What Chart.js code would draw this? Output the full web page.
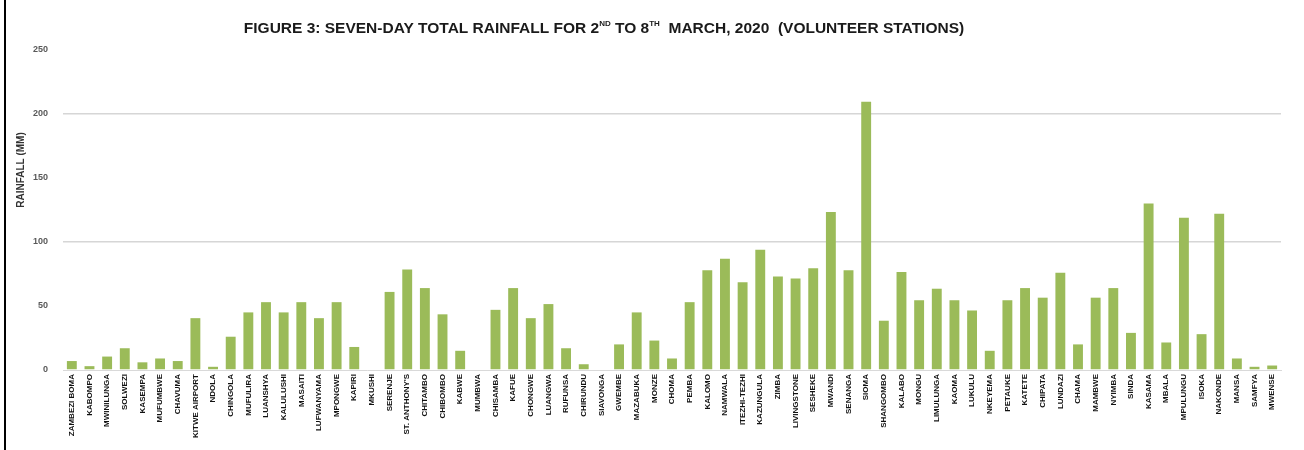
<!DOCTYPE html>
<html lang="en">
<head>
    <meta charset="UTF-8">
    <title>Seven-day total rainfall</title>
    <script src="https://cdn.jsdelivr.net/npm/chart.js"></script>
    <style>
        body {
            margin: 0;
            background: #ffffff;
        }
        .chart-box {
            position: relative;
            width: 1304px;
            height: 450px;
        }
    </style>
</head>
<body>
    <div class="chart-box">
        <canvas id="rainChart"></canvas>
    </div>

    <script>
        // station names (illegible in the source, approximated)
        const stations = [
            'ZAMBEZI BOMA', 'KABOMPO', 'MWINILUNGA', 'SOLWEZI', 'KASEMPA', 'MUFUMBWE', 'CHAVUMA',
            'KITWE AIRPORT', 'NDOLA', 'CHINGOLA', 'MUFULIRA', 'LUANSHYA', 'KALULUSHI', 'MASAITI',
            'LUFWANYAMA', 'MPONGWE', 'KAPIRI', 'MKUSHI', 'SERENJE', "ST. ANTHONY'S", 'CHITAMBO',
            'CHIBOMBO', 'KABWE', 'MUMBWA', 'CHISAMBA', 'KAFUE', 'CHONGWE', 'LUANGWA', 'RUFUNSA',
            'CHIRUNDU', 'SIAVONGA', 'GWEMBE', 'MAZABUKA', 'MONZE', 'CHOMA', 'PEMBA', 'KALOMO',
            'NAMWALA', 'ITEZHI-TEZHI', 'KAZUNGULA', 'ZIMBA', 'LIVINGSTONE', 'SESHEKE', 'MWANDI',
            'SENANGA', 'SIOMA', 'SHANGOMBO', 'KALABO', 'MONGU', 'LIMULUNGA', 'KAOMA', 'LUKULU',
            'NKEYEMA', 'PETAUKE', 'KATETE', 'CHIPATA', 'LUNDAZI', 'CHAMA', 'MAMBWE', 'NYIMBA',
            'SINDA', 'KASAMA', 'MBALA', 'MPULUNGU', 'ISOKA', 'NAKONDE', 'MANSA', 'SAMFYA', 'MWENSE'
        ];

        // seven-day totals (mm)
        const rainfall = [
            7, 3, 10.5, 17, 6, 9, 7,
            40.5, 2.5, 26, 45, 53, 45, 53,
            40.5, 53, 18, 0, 61, 78.5, 64,
            43.5, 15, 0, 47, 64, 40.5, 51.5, 17,
            4.5, 0, 20, 45, 23, 9, 53, 78,
            87, 68.5, 94, 73, 71.5, 79.5, 123.5,
            78, 209.5, 38.5, 76.5, 54.5, 63.5, 54.5, 46.5,
            15, 54.5, 64, 56.5, 76, 20, 56.5, 64,
            29, 130, 21.5, 119, 28, 122, 9, 2.5, 3.5
        ];

        const yTicks = [0, 50, 100, 150, 200, 250];
        const gridValues = [100, 200];

        const titleParts = [
            { text: 'FIGURE 3: SEVEN-DAY TOTAL RAINFALL FOR 2', sup: false },
            { text: 'ND', sup: true },
            { text: ' TO 8', sup: false },
            { text: 'TH', sup: true },
            { text: '  MARCH, 2020  (VOLUNTEER STATIONS)', sup: false }
        ];

        // title, y axis title and the left frame line
        const decorations = {
            id: 'decorations',
            afterDraw(chart) {
                const ctx = chart.ctx;
                ctx.save();
                ctx.fillStyle = '#000000';
                ctx.fillRect(4, 0, 2, 450);

                const mainFont = 'bold 15.5px "Liberation Sans", sans-serif';
                const supFont = 'bold 8px "Liberation Sans", sans-serif';
                let total = 0;
                titleParts.forEach(p => {
                    ctx.font = p.sup ? supFont : mainFont;
                    total += ctx.measureText(p.text).width;
                });
                let x = 604 - total / 2;
                ctx.textBaseline = 'alphabetic';
                ctx.fillStyle = '#1a1a1a';
                titleParts.forEach(p => {
                    ctx.font = p.sup ? supFont : mainFont;
                    ctx.fillText(p.text, x, p.sup ? 26 : 33);
                    x += ctx.measureText(p.text).width;
                });

                ctx.translate(21, 170);
                ctx.rotate(-Math.PI / 2);
                ctx.font = 'bold 10px "Liberation Sans", sans-serif';
                ctx.textAlign = 'center';
                ctx.textBaseline = 'middle';
                ctx.fillStyle = '#333333';
                ctx.fillText('RAINFALL (MM)', 0, 0);
                ctx.restore();
            }
        };

        const ctx = document.getElementById('rainChart').getContext('2d');
        const rainChart = new Chart(ctx, {
            type: 'bar',
            data: {
                labels: stations,
                datasets: [{
                    label: 'Rainfall (mm)',
                    data: rainfall,
                    backgroundColor: '#9bbb59',
                    categoryPercentage: 1,
                    barPercentage: 0.56
                }]
            },
            options: {
                responsive: true,
                maintainAspectRatio: false,
                animation: false,
                layout: {
                    padding: { top: 50, right: 23, bottom: 0, left: 0 }
                },
                plugins: {
                    legend: { display: false },
                    tooltip: { enabled: false }
                },
                scales: {
                    x: {
                        afterFit(scale) { scale.height = 80; },
                        grid: { display: false, drawTicks: false },
                        border: { display: true, color: '#d9d9d9', width: 1 },
                        ticks: {
                            autoSkip: false,
                            minRotation: 90,
                            maxRotation: 90,
                            padding: 4,
                            color: '#111111',
                            font: { family: '"Liberation Sans", sans-serif', size: 8, weight: 'bold' }
                        }
                    },
                    y: {
                        min: 0,
                        max: 250,
                        afterFit(scale) { scale.width = 63; },
                        afterBuildTicks(scale) {
                            scale.ticks = yTicks.map(v => ({ value: v }));
                        },
                        border: { display: false },
                        grid: {
                            drawTicks: false,
                            color: c => gridValues.includes(c.tick.value) ? '#d6d6d6' : 'rgba(0,0,0,0)',
                            lineWidth: 1.5
                        },
                        ticks: {
                            padding: 15,
                            color: '#595959',
                            font: { family: '"Liberation Sans", sans-serif', size: 9, weight: 'bold' }
                        }
                    }
                }
            },
            plugins: [decorations]
        });
    </script>
</body>
</html>
